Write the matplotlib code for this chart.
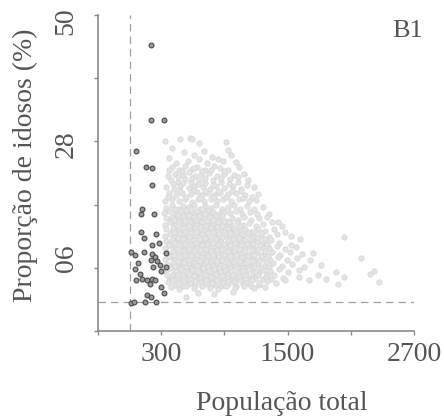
import matplotlib

matplotlib.use("Agg")
import matplotlib.pyplot as plt
from matplotlib.transforms import ScaledTranslation

FG = "#555555"
SPINE = "#8a8a8a"
DASH = "#a0a0a0"
LIGHT_FACE = "#e4e4e4"
LIGHT_EDGE = "#d5d5d5"
DARK_FACE = "#9a9a9a"
DARK_EDGE = "#4a4a4a"

# axis ticks
x_ticks = [-300, 300, 900, 1500, 2100, 2700]
x_tick_labels = ["", "300", "", "1500", "", "2700"]
y_ticks = [-5, 6, 17, 28, 39, 50]
y_tick_labels = ["", "06", "", "28", "", "50"]

# small-population municipalities (dark points)
dark_x = [199, 199, 325, 60, 152, 212, 215, 114, 111, 228, 104, 136, 250, 215, 278,
          16, 47, 133, 212, 237, 341, 84, 199, 262, 291, 341, 47, 221, 300, 101,
          63, 120, 168, 212, 243, 193, 294, 325, 164, 205, 16, 38, 142, 246]
dark_y = [44.7, 31.7, 31.8, 26.4, 23.6, 23.3, 20.5, 16.2, 15.3, 15.3, 12.3, 11.2, 11.9, 10.0, 10.4,
          8.7, 8.2, 8.7, 8.4, 7.9, 8.5, 6.9, 7.3, 7.1, 6.5, 6.2, 5.8, 6.1, 5.5, 5.0,
          3.8, 4.1, 3.9, 4.0, 3.8, 3.2, 2.7, 1.6, 1.2, 1.0, -0.1, 0.0, 0.0, 0.0]

# remaining municipalities (light cloud), grouped by band of y
cloud_top = [(332, 28.1), (483, 28.4), (569, 28.6), (591, 28.5), (657, 27.8), (917, 27.9),
             (938, 26.5), (405, 26.9), (520, 26.2), (610, 25.7), (705, 26.4), (780, 25.3),
             (837, 25.0), (443, 24.2), (555, 24.6), (660, 24.9), (735, 24.3), (890, 24.6),
             (1011, 24.4), (965, 25.6), (375, 25.1)]

cloud_upper = [(400, 23.5), (470, 23.1), (530, 23.8), (590, 23.2), (640, 23.6), (720, 23.0),
               (800, 23.7), (860, 23.3), (935, 23.1), (1040, 23.5),
               (360, 22.0), (430, 22.4), (510, 22.1), (560, 22.6), (620, 21.9), (680, 22.3),
               (750, 22.5), (830, 22.0), (900, 22.4), (990, 22.1), (1090, 22.3),
               (390, 21.3), (455, 20.9), (530, 21.4), (580, 21.0), (660, 21.2), (720, 20.8),
               (790, 21.3), (870, 21.0), (950, 21.4), (1030, 20.9), (1120, 21.2),
               (345, 20.1), (420, 19.8), (480, 20.3), (560, 19.9), (610, 20.2), (700, 20.0),
               (760, 19.7), (820, 20.3), (900, 19.9), (980, 20.2), (1060, 19.8), (1180, 20.0),
               (370, 19.0), (440, 18.7), (500, 19.1), (580, 18.8), (640, 19.2), (690, 18.6),
               (745, 19.0), (805, 18.7), (860, 19.1), (930, 18.8), (1010, 19.0), (1100, 18.6),
               (1220, 18.9),
               (340, 17.7), (400, 18.0), (470, 17.6), (530, 17.9), (595, 17.5), (650, 18.0),
               (710, 17.7), (770, 17.9), (830, 17.6), (890, 18.0), (960, 17.7), (1040, 17.9),
               (1130, 17.6), (1200, 17.8),
               (375, 23.0), (500, 22.8), (615, 23.3), (690, 22.9), (770, 23.1), (900, 22.8),
               (455, 21.8), (595, 21.6), (715, 21.7), (865, 21.6), (1030, 21.8),
               (410, 20.6), (510, 20.7), (650, 20.6), (790, 20.5), (940, 20.6), (1110, 20.5),
               (475, 19.4), (610, 19.5), (720, 19.3), (840, 19.4), (970, 19.4), (1060, 19.3),
               (360, 18.4), (540, 18.3), (670, 18.2), (800, 18.3), (920, 18.3), (1080, 18.2),
               (1160, 18.3)]

cloud_core = [(350, 16.4), (400, 16.9), (455, 16.3), (505, 16.8), (560, 16.5), (610, 17.0),
              (665, 16.3), (715, 16.7), (770, 16.4), (820, 16.9), (875, 16.2), (930, 16.6),
              (990, 16.9), (1050, 16.3), (1110, 16.7), (1180, 16.2), (1264, 16.6),
              (330, 15.5), (378, 15.9), (428, 15.4), (480, 15.8), (532, 15.3), (585, 15.7),
              (637, 15.5), (690, 15.9), (742, 15.4), (795, 15.8), (848, 15.3), (900, 15.7),
              (955, 15.5), (1010, 15.9), (1070, 15.4), (1140, 15.7), (1210, 15.3), (1327, 15.3),
              (345, 14.7), (395, 14.3), (448, 14.8), (500, 14.4), (553, 14.9), (605, 14.5),
              (658, 14.3), (710, 14.8), (763, 14.4), (815, 14.9), (868, 14.5), (920, 14.2),
              (975, 14.7), (1030, 14.4), (1090, 14.8), (1155, 14.3), (1230, 14.6), (1300, 14.9),
              (1413, 14.0),
              (335, 13.5), (383, 13.9), (433, 13.4), (485, 13.8), (538, 13.3), (590, 13.7),
              (643, 13.5), (695, 13.9), (748, 13.4), (800, 13.8), (853, 13.3), (905, 13.7),
              (960, 13.5), (1015, 13.9), (1075, 13.4), (1135, 13.8), (1200, 13.3), (1270, 13.6),
              (1350, 13.9), (1450, 13.2),
              (350, 12.7), (400, 12.3), (452, 12.8), (505, 12.4), (557, 12.9), (610, 12.5),
              (662, 12.3), (715, 12.8), (767, 12.4), (820, 12.9), (872, 12.5), (925, 12.2),
              (980, 12.7), (1035, 12.4), (1092, 12.8), (1150, 12.3), (1215, 12.7), (1285, 12.4),
              (1370, 12.8), (1480, 12.3),
              (332, 11.5), (380, 11.9), (430, 11.4), (482, 11.8), (535, 11.3), (587, 11.7),
              (640, 11.5), (692, 11.9), (745, 11.4), (797, 11.8), (850, 11.3), (902, 11.7),
              (957, 11.5), (1012, 11.9), (1068, 11.4), (1125, 11.8), (1185, 11.3), (1250, 11.7),
              (1320, 11.4), (1400, 11.8), (1533, 11.6), (1618, 11.0), (2038, 11.3),
              (348, 10.7), (398, 10.3), (450, 10.8), (502, 10.4), (555, 10.9), (607, 10.5),
              (660, 10.3), (712, 10.8), (765, 10.4), (817, 10.9), (870, 10.5), (922, 10.2),
              (977, 10.7), (1032, 10.4), (1088, 10.8), (1145, 10.3), (1205, 10.7), (1270, 10.4),
              (1340, 10.8), (1420, 10.3), (1533, 9.9),
              (335, 9.5), (383, 9.9), (433, 9.4), (485, 9.8), (538, 9.3), (590, 9.7),
              (643, 9.5), (695, 9.9), (748, 9.4), (800, 9.8), (853, 9.3), (905, 9.7),
              (960, 9.5), (1015, 9.9), (1072, 9.4), (1130, 9.8), (1190, 9.3), (1255, 9.7),
              (1325, 9.4), (1400, 9.8), (1480, 9.3), (1580, 9.6),
              (350, 8.7), (400, 8.3), (452, 8.8), (505, 8.4), (557, 8.9), (610, 8.5),
              (662, 8.3), (715, 8.8), (767, 8.4), (820, 8.9), (872, 8.5), (925, 8.2),
              (980, 8.7), (1035, 8.4), (1092, 8.8), (1150, 8.3), (1212, 8.7), (1278, 8.4),
              (1350, 8.8), (1430, 8.3), (1520, 8.7), (1640, 8.4), (1738, 8.6),
              (338, 7.5), (385, 7.9), (435, 7.4), (487, 7.8), (540, 7.3), (592, 7.7),
              (645, 7.5), (697, 7.9), (750, 7.4), (802, 7.8), (855, 7.3), (907, 7.7),
              (962, 7.5), (1017, 7.9), (1075, 7.4), (1133, 7.8), (1195, 7.3), (1260, 7.7),
              (1330, 7.4), (1410, 7.8), (1490, 7.3), (1590, 7.7), (1713, 7.3), (2196, 7.7),
              (352, 6.7), (402, 6.3), (455, 6.8), (507, 6.4), (560, 6.9), (612, 6.5),
              (665, 6.3), (717, 6.8), (770, 6.4), (822, 6.9), (875, 6.5), (927, 6.2),
              (982, 6.7), (1037, 6.4), (1095, 6.8), (1153, 6.3), (1217, 6.7), (1285, 6.4),
              (1360, 6.8), (1445, 6.3), (1540, 6.7), (1660, 6.2), (1820, 6.5)]

# denser interior of the cloud, between the rows above
cloud_fill = [(428, 16.2), (483, 15.9), (533, 16.1), (587, 16.3), (638, 15.9), (690, 16.2),
              (742, 16.0),
              (405, 14.9), (455, 15.2), (507, 15.0), (560, 15.2), (612, 14.9), (663, 15.1),
              (717, 15.3), (768, 14.9), (822, 15.1), (875, 15.0),
              (420, 14.3), (473, 13.9), (527, 14.2), (578, 14.0), (632, 14.3), (683, 13.9),
              (737, 14.1), (790, 14.3), (842, 13.9), (895, 14.2), (948, 14.0),
              (408, 12.9), (460, 13.2), (512, 13.0), (563, 13.3), (617, 12.9), (668, 13.1),
              (722, 13.2), (773, 12.9), (826, 13.1), (878, 13.3), (932, 12.9), (988, 13.0),
              (1045, 13.2),
              (425, 12.3), (477, 11.9), (530, 12.2), (582, 12.0), (635, 12.3), (687, 11.9),
              (740, 12.1), (792, 12.3), (845, 11.9), (897, 12.2), (952, 12.0), (1007, 12.3),
              (1063, 11.9), (1120, 12.1), (1182, 12.2), (1248, 12.0),
              (405, 10.9), (457, 11.2), (510, 11.0), (562, 11.3), (614, 10.9), (667, 11.1),
              (720, 11.2), (772, 10.9), (825, 11.1), (877, 11.3), (930, 10.9), (985, 11.0),
              (1040, 11.2), (1098, 10.9), (1155, 11.1), (1218, 11.2), (1285, 11.0),
              (372, 10.0), (424, 10.3), (476, 9.9), (528, 10.2), (581, 10.0), (633, 10.3),
              (686, 9.9), (738, 10.1), (791, 10.3), (843, 9.9), (896, 10.2), (950, 10.0),
              (1004, 10.3), (1060, 9.9), (1117, 10.1), (1175, 10.2), (1237, 10.0), (1305, 10.1),
              (408, 8.9), (460, 9.2), (512, 9.0), (564, 9.3), (616, 8.9), (669, 9.1),
              (722, 9.2), (774, 8.9), (827, 9.1), (879, 9.3), (932, 8.9), (988, 9.0),
              (1043, 9.2), (1100, 8.9), (1160, 9.1), (1222, 9.2), (1290, 9.0),
              (375, 8.0), (426, 8.3), (478, 7.9), (530, 8.2), (583, 8.0), (636, 8.3),
              (688, 7.9), (741, 8.1), (793, 8.3), (846, 7.9), (898, 8.2), (952, 8.0),
              (1007, 8.3), (1063, 7.9), (1120, 8.1), (1180, 8.2), (1245, 8.0), (1315, 8.1),
              (410, 6.9), (462, 7.2), (514, 7.0), (566, 7.3), (618, 6.9), (671, 7.1),
              (724, 7.2), (776, 6.9), (829, 7.1), (881, 7.3), (934, 6.9), (990, 7.0),
              (1046, 7.2), (1104, 6.9), (1164, 7.1), (1228, 7.2), (1295, 7.0),
              (377, 6.0), (428, 6.3), (480, 5.9), (533, 6.2), (586, 6.0), (638, 6.3),
              (691, 5.9), (743, 6.1), (796, 6.3), (848, 5.9), (901, 6.2), (954, 6.0),
              (1010, 6.3), (1066, 5.9), (1124, 6.1), (1185, 6.2), (1250, 6.0), (1320, 6.1),
              (412, 4.9), (464, 5.2), (516, 5.0), (568, 5.3), (620, 4.9), (673, 5.1),
              (726, 5.2), (778, 4.9), (831, 5.1), (883, 5.3), (936, 4.9), (992, 5.0),
              (1048, 5.2), (1106, 4.9), (1167, 5.1), (1232, 5.2), (1300, 5.0),
              (380, 4.0), (432, 4.3), (485, 3.9), (537, 4.2), (590, 4.0), (642, 4.3),
              (695, 3.9), (747, 4.1), (800, 4.3), (852, 3.9), (905, 4.2), (958, 4.0),
              (1013, 4.3), (1070, 3.9), (1130, 4.1), (1195, 4.2), (1262, 4.0), (1340, 4.1),
              (430, 3.0), (495, 2.9), (555, 3.2), (620, 3.0), (685, 2.8), (745, 3.1),
              (810, 3.0), (870, 2.8), (935, 3.1), (1010, 2.9), (1075, 3.2), (1150, 2.9),
              (1230, 3.0)]

cloud_low = [(340, 5.5), (388, 5.9), (438, 5.4), (490, 5.8), (542, 5.3), (595, 5.7),
             (647, 5.5), (700, 5.9), (752, 5.4), (805, 5.8), (857, 5.3), (910, 5.7),
             (965, 5.5), (1020, 5.9), (1078, 5.4), (1137, 5.8), (1200, 5.3), (1265, 5.7),
             (1335, 5.4), (1415, 5.8), (1500, 5.3), (1612, 5.6), (1959, 5.2), (2323, 5.5),
             (355, 4.7), (405, 4.3), (458, 4.8), (510, 4.4), (562, 4.9), (615, 4.5),
             (667, 4.3), (720, 4.8), (772, 4.4), (825, 4.9), (877, 4.5), (930, 4.2),
             (985, 4.7), (1040, 4.4), (1098, 4.8), (1157, 4.3), (1222, 4.7), (1292, 4.4),
             (1370, 4.8), (1455, 4.3), (1612, 4.4), (1785, 4.7), (2031, 4.4), (2285, 5.0),
             (365, 3.5), (415, 3.9), (465, 3.4), (517, 3.8), (570, 3.3), (622, 3.7),
             (675, 3.5), (727, 3.9), (780, 3.4), (832, 3.8), (885, 3.3), (937, 3.7),
             (992, 3.5), (1047, 3.9), (1105, 3.4), (1165, 3.8), (1232, 3.3), (1305, 3.7),
             (1390, 3.4), (1480, 3.8), (1700, 3.8), (1865, 4.0), (2370, 3.5),
             (395, 2.7), (470, 2.3), (540, 2.8), (610, 2.4), (690, 2.9), (760, 2.5),
             (840, 2.3), (920, 2.8), (1000, 2.4), (1090, 2.9), (1180, 2.5), (1290, 2.7),
             (1975, 3.1),
             (537, 1.0), (650, 1.7), (800, 1.4), (980, 1.8)]

plt.rcParams["font.family"] = ["Liberation Serif", "DejaVu Serif"]

fig = plt.figure(figsize=(4.44, 4.17), dpi=100, facecolor="white")
ax = fig.add_axes([0.2207, 0.2062, 0.7117, 0.7578])

# reference lines
ax.axvline(0, color=DASH, lw=0.9, ls=(0, (6, 4)), zorder=1)
ax.axhline(0, color=DASH, lw=0.9, ls=(0, (6, 4)), zorder=1)

light = cloud_top + cloud_upper + cloud_core + cloud_fill + cloud_low
lx = [p[0] for p in light]
ly = [p[1] for p in light]
ax.scatter(lx, ly, s=15, facecolor=LIGHT_FACE, edgecolor=LIGHT_EDGE, linewidths=0.5, zorder=2)
ax.scatter(dark_x, dark_y, s=12, facecolor=DARK_FACE, edgecolor=DARK_EDGE, linewidths=0.8, zorder=3)

ax.set_xlim(-300, 2700)
ax.set_ylim(-5, 50)
ax.set_xticks(x_ticks)
ax.set_xticklabels(x_tick_labels, fontsize=20, color=FG)
ax.set_yticks(y_ticks)
ax.set_yticklabels(y_tick_labels, fontsize=20, color=FG, rotation=90, va="center")
ax.tick_params(axis="x", direction="out", length=3, width=1, color=SPINE, pad=5)
ax.tick_params(axis="y", direction="out", length=3, width=1, color=SPINE, pad=11)

# the printed labels sit a little off their ticks
label_shift = {"06": 10, "28": -3, "50": -6}
for lab in ax.get_yticklabels():
    dy = label_shift.get(lab.get_text(), 0)
    lab.set_transform(lab.get_transform() + ScaledTranslation(0, dy / 100, fig.dpi_scale_trans))

for side in ("top", "right"):
    ax.spines[side].set_visible(False)
for side in ("left", "bottom"):
    ax.spines[side].set_color(SPINE)
    ax.spines[side].set_linewidth(1.2)

ax.text(0.979, 0.948, "B1", transform=ax.transAxes, ha="center", va="center",
        fontsize=19, color=FG)

fig.text(0.634, 0.017, "População total", ha="center", va="baseline",
         fontsize=20, color=FG)
fig.text(0.0563, 0.604, "Proporção de idosos (%)", ha="center", va="center",
         rotation=90, fontsize=20, color=FG)

fig.savefig("out.png", dpi=100, facecolor="white")
